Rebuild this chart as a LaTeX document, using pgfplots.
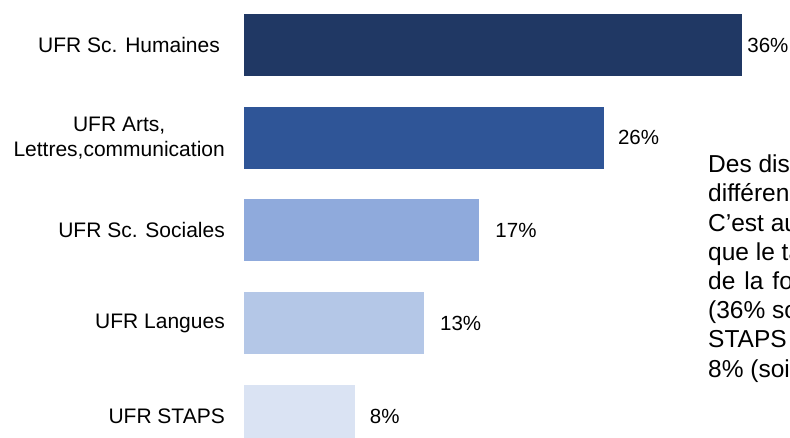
\documentclass[border=0pt]{standalone}
\usepackage{fontspec}
\setmainfont{Liberation Sans}
\usepackage{pgfplots}
\pgfplotsset{compat=1.18}
\definecolor{c1}{HTML}{203864}
\definecolor{c2}{HTML}{2F5597}
\definecolor{c3}{HTML}{8FAADC}
\definecolor{c4}{HTML}{B4C7E7}
\definecolor{c5}{HTML}{DAE3F3}
\begin{document}
\begin{tikzpicture}[x=1pt,y=1pt]
\path[use as bounding box, clip] (0,0) rectangle (790,-438);
\begin{axis}[
  at={(244pt,1.4pt)}, anchor=north west,
  scale only axis, width=553.6pt, height=463.75pt,
  xmin=0, xmax=40, ymin=-0.5, ymax=4.5, y dir=reverse,
  xbar, bar width=62pt,
  axis line style={draw=none}, major tick length=0pt,
  xtick=\empty, ytick={0,1,2,3,4},
  yticklabels={{UFR Sc. Humaines\kern5pt},{UFR Arts,\\Lettres,communication},{UFR Sc. Sociales},{UFR Langues},{UFR STAPS}},
  yticklabel style={font=\fontsize{21}{25}\selectfont, align=center, anchor=east, inner sep=0pt, xshift=-19pt},
  clip=false,
  point meta=x,
  /pgf/number format/assume math mode=true,
  nodes near coords={\pgfmathprintnumber{\pgfplotspointmeta}\%},
  every node near coord/.append style={font=\fontsize{20.5}{24}\selectfont, anchor=west, inner sep=0pt, text=black},
]
\addplot[fill=c1, draw=none, bar shift=0pt, every node near coord/.append style={xshift=5pt}] coordinates {(36,0)};
\addplot[fill=c2, draw=none, bar shift=0pt, every node near coord/.append style={xshift=14pt}] coordinates {(26,1)};
\addplot[fill=c3, draw=none, bar shift=0pt, every node near coord/.append style={xshift=16pt}] coordinates {(17,2)};
\addplot[fill=c4, draw=none, bar shift=0pt, every node near coord/.append style={xshift=16pt}] coordinates {(13,3)};
\addplot[fill=c5, draw=none, bar shift=0pt, every node near coord/.append style={xshift=15pt}] coordinates {(8,4)};
\end{axis}
\begin{scope}[every node/.style={anchor=base west, inner sep=0pt, font=\fontsize{24.5}{29}\selectfont}]
\node at (708,-172.7) {Des disparités};
\node at (708,-201.9) {différences};
\node at (708,-231.1) {C’est au niveau};
\node at (708,-260.3) {que le taux};
\node at (708,-289.5) {de\hspace{9pt}la\hspace{9pt}formation};
\node at (708,-318.7) {(36\% soit};
\node at (708,-347.9) {STAPS};
\node at (708,-377.1) {8\% (soit};
\end{scope}
\end{tikzpicture}
\end{document}
